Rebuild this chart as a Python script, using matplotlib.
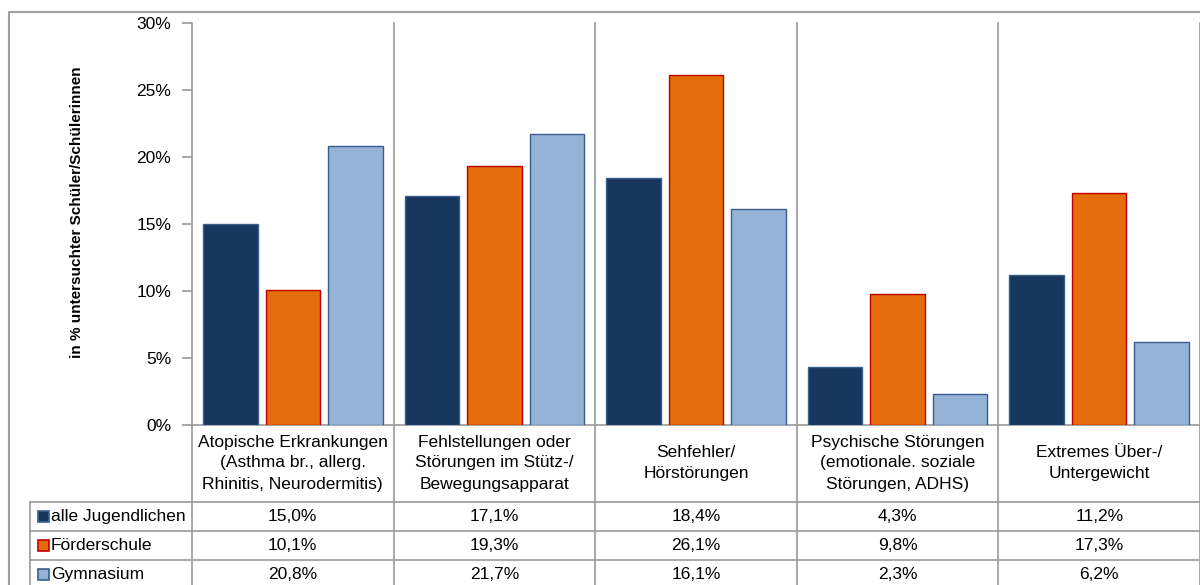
import matplotlib
matplotlib.use("Agg")
import matplotlib.pyplot as plt
from matplotlib.patches import Rectangle
from matplotlib.lines import Line2D
import matplotlib.transforms as mtransforms

plt.rcParams['font.family'] = ['Liberation Sans', 'DejaVu Sans']

categories = [
    "Atopische Erkrankungen\n(Asthma br., allerg.\nRhinitis, Neurodermitis)",
    "Fehlstellungen oder\nStörungen im Stütz-/\nBewegungsapparat",
    "Sehfehler/\nHörstörungen",
    "Psychische Störungen\n(emotionale. soziale\nStörungen, ADHS)",
    "Extremes Über-/\nUntergewicht",
]
series_names = ["alle Jugendlichen", "Förderschule", "Gymnasium"]
alle_jugendlichen = [15.0, 17.1, 18.4, 4.3, 11.2]
foerderschule = [10.1, 19.3, 26.1, 9.8, 17.3]
gymnasium = [20.8, 21.7, 16.1, 2.3, 6.2]
y_ticks = [0, 5, 10, 15, 20, 25, 30]
y_label = "in % untersuchter Schüler/Schülerinnen"

series = [alle_jugendlichen, foerderschule, gymnasium]
fills = ["#17375E", "#E46C0A", "#95B3D7"]
edges = ["#3A5F8C", "#C00000", "#385D8A"]
offsets = [-0.31, 0.0, 0.31]
bar_w = 0.27
grid_col = "#9A9A9A"

W, H = 1200, 585
fig = plt.figure(figsize=(W / 100, H / 100), dpi=100)


def fx(px):
    return px / W


def fy(py):
    return 1 - py / H


ax = fig.add_axes([fx(192), fy(425), fx(1200) - fx(192), fy(23) - fy(425)])
ax.set_xlim(0, len(categories))
ax.set_ylim(0, 30)

for vals, off, fc, ec in zip(series, offsets, fills, edges):
    xs = [i + 0.5 + off for i in range(len(vals))]
    ax.bar(xs, vals, width=bar_w, color=fc, edgecolor=ec, linewidth=1.0, zorder=3)

ax.set_yticks(y_ticks)
ax.set_yticklabels([f"{t}%" for t in y_ticks], fontsize=12.5)
ax.set_xticks([])
ax.tick_params(axis='y', direction='out', length=7, width=1.2, color=grid_col, pad=8)
for s in ["top", "right"]:
    ax.spines[s].set_visible(False)
ax.spines["left"].set_color(grid_col)
ax.spines["left"].set_linewidth(1.2)
ax.spines["bottom"].set_color(grid_col)
ax.spines["bottom"].set_linewidth(1.2)
ax.text(fx(77), fy(212), y_label, transform=fig.transFigure, rotation=90,
        ha='center', va='center', fontsize=11, fontweight='bold')

# category dividers reaching from the top of the plot down through the table
trans = mtransforms.blended_transform_factory(ax.transData, fig.transFigure)
for i in range(0, len(categories) + 1):
    ax.add_line(Line2D([i, i], [fy(23) if i > 0 else fy(425), 0], transform=trans,
                       color=grid_col, lw=1.2, clip_on=False, zorder=1))

# category header cells
for i, cat in enumerate(categories):
    ax.text(i + 0.5, fy(463), cat, transform=trans, ha='center', va='center',
            fontsize=12.5, linespacing=1.5, clip_on=False)

# data table rows
row_tops = [502, 531, 560, 589]
for r in row_tops:
    fig.add_artist(Line2D([fx(30), 1], [fy(r), fy(r)], transform=fig.transFigure,
                          color=grid_col, lw=1.2))
fig.add_artist(Line2D([fx(30), fx(30)], [fy(502), 0], transform=fig.transFigure,
                      color=grid_col, lw=1.2))

for k, (name, vals) in enumerate(zip(series_names, series)):
    yc = fy((row_tops[k] + row_tops[k + 1]) / 2)
    fig.add_artist(Rectangle((fx(38), yc - 5.5 / H), 11 / W, 11 / H,
                             transform=fig.transFigure, facecolor=fills[k],
                             edgecolor=edges[k], lw=1.2))
    fig.text(fx(51), yc, name, ha='left', va='center', fontsize=12.5)
    for i, v in enumerate(vals):
        ax.text(i + 0.5, yc, f"{v:.1f}%".replace(".", ","), transform=trans,
                ha='center', va='center', fontsize=12.5, clip_on=False)

# outer chart frame
fig.add_artist(Line2D([fx(9), fx(9), 1], [0, fy(12), fy(12)], transform=fig.transFigure,
                      color="#A0A0A0", lw=1.5))

fig.savefig("out.png", dpi=100)
